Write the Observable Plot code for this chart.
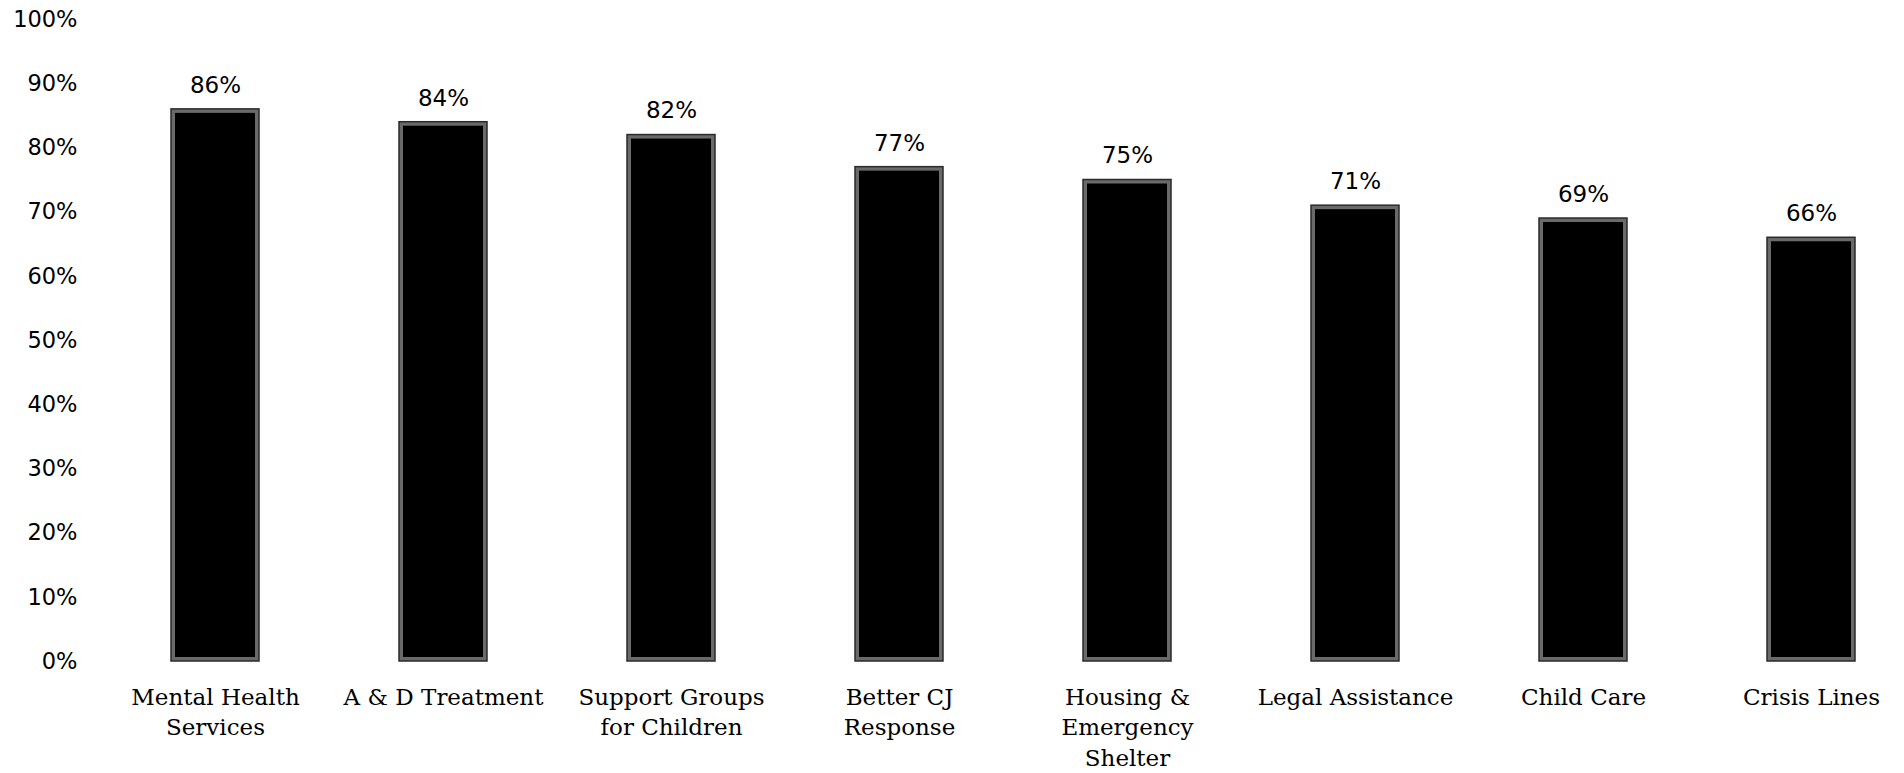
<!DOCTYPE html>
<html>
<head>
<meta charset="utf-8">
<script src="https://cdn.jsdelivr.net/npm/d3@7"></script>
<script src="https://cdn.jsdelivr.net/npm/@observablehq/plot@0.6"></script>
<style>
  html, body { margin: 0; padding: 0; background: #fff; }
</style>
</head>
<body>
<div id="chart"></div>
<script>
const categories = [
  "Mental Health\nServices",
  "A & D Treatment",
  "Support Groups\nfor Children",
  "Better CJ\nResponse",
  "Housing &\nEmergency\nShelter",
  "Legal Assistance",
  "Child Care",
  "Crisis Lines"
];
const values = [0.86, 0.84, 0.82, 0.77, 0.75, 0.71, 0.69, 0.66];
const yTicks = [0, 0.1, 0.2, 0.3, 0.4, 0.5, 0.6, 0.7, 0.8, 0.9, 1.0];

const data = categories.map((c, i) => ({category: c, value: values[i]}));
const pct = d3.format(".0%");

const chart = Plot.plot({
  width: 1904,
  height: 773,
  marginLeft: 80,
  marginRight: 20,
  marginTop: 19,
  marginBottom: 112,
  style: {fontFamily: "'DejaVu Sans', sans-serif", fontSize: "22.5px", color: "#000", background: "#fff"},
  x: {domain: categories, range: [171, 1855], paddingInner: 0.615, paddingOuter: 0, label: null},
  y: {domain: [0, 1], range: [661, 19], label: null},
  marks: [
    Plot.axisY({ticks: yTicks, tickFormat: pct, tickSize: 0, tickPadding: 3, fontSize: 22.5, label: null}),
    Plot.axisX({tickSize: 0, tickPadding: 21.5, fontSize: 23, lineHeight: 1.33, lineAnchor: "top",
      fontFamily: "'DejaVu Serif', serif", label: null}),
    Plot.barY(data, {x: "category", y: "value", fill: "#6a6a6a", stroke: "#2a2a2a", strokeWidth: 1.5}),
    Plot.barY(data, {x: "category", y: "value", fill: "#000", inset: 4, ariaLabel: "inner-bar"}),
    Plot.text(data, {x: "category", y: "value", text: d => pct(d.value), dy: -24, fontSize: 23})
  ]
});

// soft inner glow on bars
const svg = chart;
const defs = document.createElementNS("http://www.w3.org/2000/svg", "defs");
defs.innerHTML = '<filter id="barglow" x="-10%" y="-10%" width="120%" height="120%"><feGaussianBlur stdDeviation="2.6"/></filter>';
svg.insertBefore(defs, svg.firstChild);
const inner = svg.querySelector('g[aria-label="inner-bar"]');
if (inner) inner.setAttribute("filter", "url(#barglow)");

document.getElementById("chart").appendChild(chart);
</script>
</body>
</html>
